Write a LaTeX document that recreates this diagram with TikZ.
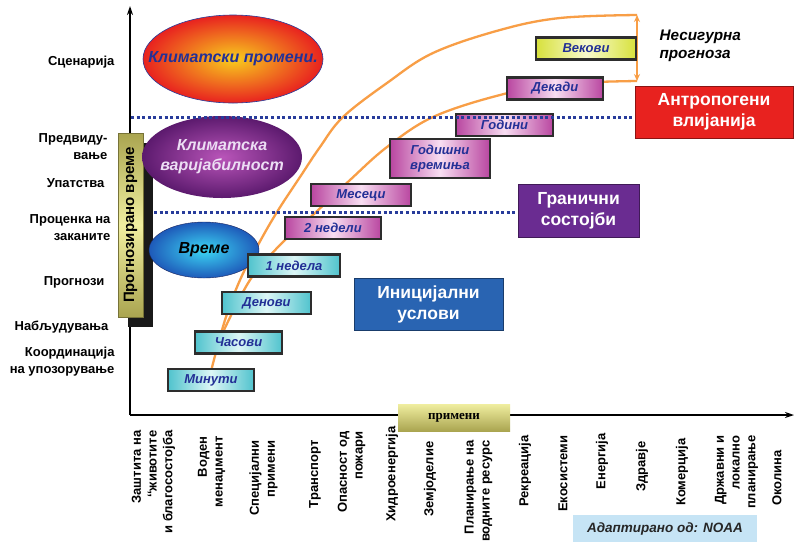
\documentclass[tikz,border=0pt]{standalone}
\usepackage{fontspec}
\setmainfont{Liberation Sans}
\newfontfamily\serifbf{Liberation Serif}
\usetikzlibrary{arrows.meta}
\definecolor{boxblue}{RGB}{35,48,150}
\definecolor{boxedge}{RGB}{45,45,45}
\definecolor{cyanedge}{RGB}{80,195,205}
\definecolor{cyanmid}{RGB}{220,246,246}
\definecolor{pinkedge}{RGB}{185,70,160}
\definecolor{pinkmid}{RGB}{248,222,242}
\definecolor{yellowedge}{RGB}{215,225,60}
\definecolor{yellowmid}{RGB}{248,250,205}
\definecolor{trackorange}{RGB}{248,158,70}
\definecolor{limitblue}{RGB}{40,60,155}
\definecolor{humanred}{RGB}{232,34,31}
\definecolor{borderpurple}{RGB}{106,44,145}
\definecolor{initblue}{RGB}{41,100,178}
\definecolor{barolive}{RGB}{170,165,80}
\definecolor{barlight}{RGB}{240,238,160}
\definecolor{noaablue}{RGB}{198,228,245}
\definecolor{sunyellow}{RGB}{248,205,30}
\definecolor{varpurple}{RGB}{185,85,185}
\definecolor{vardark}{RGB}{92,26,110}
\definecolor{vartext}{RGB}{236,222,244}
\definecolor{skycyan}{RGB}{60,215,245}
\definecolor{skyblue}{RGB}{30,90,185}

\begin{document}
\begin{tikzpicture}[x=1pt,y=-1pt,
    axis/.style={line width=1.6pt,-{Stealth[length=9pt,width=6pt]}},
    track/.style={draw=trackorange,line width=2.3pt},
    limit/.style={draw=limitblue,line width=3pt,dash pattern=on 3pt off 2.6pt},
    periodbox/.style={draw=boxedge,line width=2.4pt,inner sep=0pt,text=boxblue,
        font=\bfseries\itshape\fontsize{13}{15.5}\selectfont,align=center,minimum height=22pt},
    cyanbox/.style={periodbox,left color=cyanedge,right color=cyanedge,middle color=cyanmid},
    pinkbox/.style={periodbox,left color=pinkedge,right color=pinkedge,middle color=pinkmid},
    yellowbox/.style={periodbox,left color=yellowedge,right color=yellowedge,middle color=yellowmid},
    factor/.style={draw=#1!60!black,fill=#1,text=white,line width=0.6pt,align=center,
        font=\bfseries\fontsize{17.5}{21}\selectfont},
    sidelabel/.style={anchor=east,align=right,font=\bfseries\fontsize{13}{17}\selectfont},
    uselabel/.style={anchor=east,align=right,rotate=90,font=\bfseries\fontsize{13}{15.8}\selectfont},
    cloudtext/.style={inner sep=0pt,font=\bfseries\itshape\fontsize{16}{20}\selectfont,align=center}]

\useasboundingbox (0,0) rectangle (794,542);
\fill[white] (0,0) rectangle (794,542);

\draw[track] plot[smooth,tension=0.6] coordinates {(210,375) (225,320) (240,280) (258,245)
    (277,212) (300,177) (320,147) (343,117) (387,83) (433,53) (500,30) (560,18) (637,15)};
\draw[track] plot[smooth,tension=0.6] coordinates {(224,330) (250,280) (280,245) (315,213)
    (350,180) (387,147) (433,117) (500,95) (560,84) (637,81)};
\coordinate (hiEnd) at (637,15);
\coordinate (loEnd) at (637,81);
\draw[draw=trackorange,line width=1.4pt,{Stealth[length=7pt,width=6pt]}-{Stealth[length=7pt,width=6pt]}] (hiEnd) -- (loEnd);

\coordinate (origin) at (130,415);
\coordinate (yTop) at (130,6);
\coordinate (xEnd) at (794,415);
\draw[axis] (origin) -- (yTop);
\draw[axis] (origin) -- (xEnd);

\fill[black!90] (128,143) rectangle (153,327);
\node[rotate=90,minimum width=184pt,minimum height=25pt,inner sep=0pt,draw=barolive!70!black,
    line width=0.4pt,top color=barolive,bottom color=barolive,middle color=barlight,
    font=\bfseries\fontsize{15}{17}\selectfont] (forecast) at (130.5,225) {Прогнозирано време};

\shade[inner color=sunyellow,outer color=humanred,draw=limitblue,line width=0.6pt]
    (233,59) ellipse [x radius=90pt,y radius=44pt];
\shade[inner color=varpurple,outer color=vardark] (222,157) ellipse [x radius=80pt,y radius=41pt];
\shade[inner color=skycyan,outer color=skyblue,draw=limitblue!60!black,line width=0.4pt]
    (204,250) ellipse [x radius=55pt,y radius=28pt];
\node[cloudtext,text=boxblue] (climchange) at (233,59) {Климатски промени.};
\node[cloudtext,text=vartext] (climvar) at (222,157) {Климатска\\варијабилност};
\node[cloudtext] (weather) at (204,250) {Време};

\node[cyanbox,minimum width=86pt] (minutes) at (211,380) {Минути};
\node[cyanbox,minimum width=87pt] (hours) at (238.5,342.5) {Часови};
\node[cyanbox,minimum width=89pt] (days) at (266.5,303) {Денови};
\node[cyanbox,minimum width=92pt] (week) at (294,265.5) {1 недела};
\node[pinkbox,minimum width=96pt] (twoweeks) at (333,228) {2 недели};
\node[pinkbox,minimum width=100pt] (months) at (361,195) {Месеци};
\node[pinkbox,minimum width=100pt,minimum height=39pt] (seasons) at (440,158.5) {Годишни\\времиња};
\node[pinkbox,minimum width=97pt] (years) at (504.5,125) {Години};
\node[pinkbox,minimum width=96pt] (decades) at (555,88.5) {Декади};
\node[yellowbox,minimum width=100pt] (centuries) at (586,48.5) {Векови};

\node[factor=humanred,minimum width=158pt,minimum height=52pt] (human) at (714,112) {Антропогени\\влијанија};
\node[factor=borderpurple,minimum width=121pt,minimum height=53pt] (boundary) at (578.5,210.5) {Гранични\\состојби};
\node[factor=initblue,minimum width=149pt,minimum height=52pt] (initial) at (428.5,304) {Иницијални\\услови};

\coordinate (upperStart) at (131,117);
\coordinate (lowerStart) at (154,212);
\draw[limit] (upperStart) -- (upperStart -| human.west);
\draw[limit] (lowerStart) -- (lowerStart -| boundary.west);

\node[anchor=west,align=left,font=\bfseries\itshape\fontsize{15.3}{18}\selectfont] (uncertain) at (656,46) {Несигурна\\прогноза};

\node[sidelabel] (scen) at (118,62) {Сценарија};
\node[sidelabel] (predict) at (111,147) {Предвиду-\\вање};
\node[sidelabel] (guide) at (108,183) {Упатства};
\node[sidelabel] (risk) at (114,228) {Проценка на\\заканите};
\node[sidelabel] (prog) at (108,282) {Прогнози};
\node[sidelabel] (observ) at (112,327) {Набљудувања};
\node[sidelabel] (coord) at (118,362) {Координација\\на упозорување};

\node[minimum width=112pt,minimum height=27pt,inner sep=0pt,top color=barlight,bottom color=barolive,
    font=\serifbf\bfseries\fontsize{13}{15}\selectfont] (uses) at (454,417.5) {примени};

\node[uselabel] (u1) at (153.5,427) {Заштита на\\\symbol{96}\symbol{96}животите\\и благосостојба};
\node[uselabel] (u2) at (211.5,433) {Воден\\менаџмент};
\node[uselabel] (u3) at (263.5,437) {Специјални\\примени};
\node[uselabel] (u4) at (315,437) {Транспорт};
\node[uselabel] (u5) at (351.5,428) {Опасност од\\пожари};
\node[uselabel] (u6) at (392,423) {Хидроенергија};
\node[uselabel] (u7) at (430,438) {Земјоделие};
\node[uselabel] (u8) at (478.5,437) {Планирање на\\водните ресурс};
\node[uselabel] (u9) at (525,432) {Рекреација};
\node[uselabel] (u10) at (563,432) {Екосистеми};
\node[uselabel] (u11) at (602,430) {Енергија};
\node[uselabel] (u12) at (642,438) {Здравје};
\node[uselabel] (u13) at (682,435) {Комерција};
\node[uselabel] (u14) at (736.5,432) {Државни и\\локално\\планирање};
\node[uselabel] (u15) at (777,447) {Околина};

\node[fill=noaablue,minimum width=184pt,minimum height=27pt,inner sep=0pt,
    font=\bfseries\itshape\fontsize{13.5}{15}\selectfont,text=black!85] (source) at (665,528.5) {Адаптирано од: NOAA};
\end{tikzpicture}
\end{document}
